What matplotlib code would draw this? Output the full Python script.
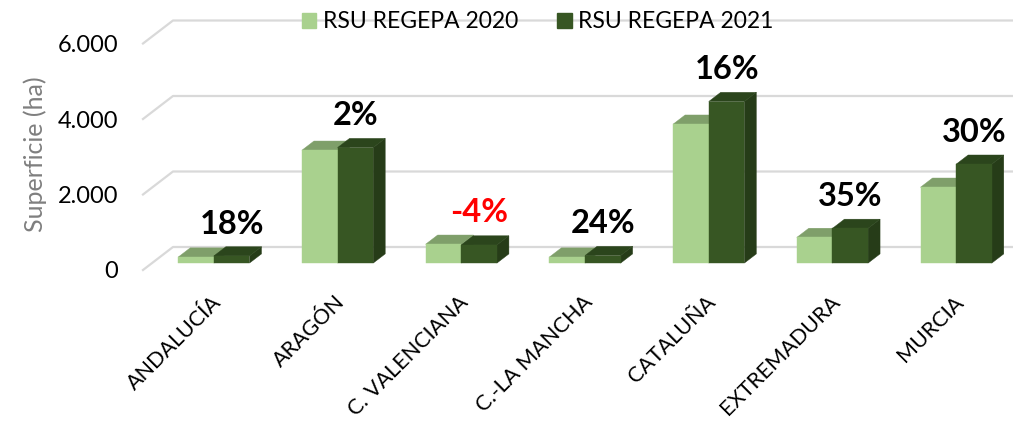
import matplotlib
matplotlib.use("Agg")
import matplotlib.pyplot as plt
from matplotlib.patches import Polygon, Patch
from matplotlib.lines import Line2D

plt.rcParams['font.family'] = ['Lato', 'DejaVu Sans']

# data
regions = ["ANDALUCÍA", "ARAGÓN", "C. VALENCIANA", "C.-LA MANCHA",
           "CATALUÑA", "EXTREMADURA", "MURCIA"]
rsu_2020 = [160, 2990, 500, 160, 3680, 680, 2010]
rsu_2021 = [190, 3060, 480, 200, 4280, 920, 2620]
pct_labels = ["18%", "2%", "-4%", "24%", "16%", "35%", "30%"]
series_names = ["RSU REGEPA 2020", "RSU REGEPA 2021"]
yticks = [0, 2000, 4000, 6000]

# colours: front, top, side
light = ("#A9D18E", "#7F9F6A", "#6F8C5C")
dark = ("#375623", "#2B451C", "#263C18")

W, H = 1013, 422
fig = plt.figure(figsize=(W / 100, H / 100), dpi=100)
# front plane of the 3D box, in pixels
left_px, right_px, zero_px, top_px = 143, 1009, 152, 378.5
ax = fig.add_axes([left_px / W, zero_px / H, (right_px - left_px) / W, (top_px - zero_px) / H])
ax.set_xlim(-0.5, len(regions) - 0.5)
ax.set_ylim(0, 6000)
for s in ax.spines.values():
    s.set_visible(False)

# oblique depth vector, full floor depth = (30px, 23px)
px_x = (len(regions)) / (right_px - left_px)
px_y = 6000 / (top_px - zero_px)
dxz = 30 * px_x
dyz = 23 * px_y
z0, z1 = 0.3, 0.7
w = 0.288

# gridlines on the back wall + floor diagonals
x_l, x_r = -0.5, len(regions) - 0.5
for v in yticks:
    ax.add_line(Line2D([x_l, x_l + dxz, x_r + dxz], [v, v + dyz, v + dyz],
                       color="#D9D9D9", lw=1.6, clip_on=False, zorder=1))


def bar3d(xc0, h, cols):
    x0 = xc0 + z0 * dxz
    x1 = x0 + w
    y0 = z0 * dyz
    ddx = (z1 - z0) * dxz
    ddy = (z1 - z0) * dyz
    front = [(x0, y0), (x1, y0), (x1, y0 + h), (x0, y0 + h)]
    top = [(x0, y0 + h), (x1, y0 + h), (x1 + ddx, y0 + h + ddy), (x0 + ddx, y0 + h + ddy)]
    side = [(x1, y0), (x1 + ddx, y0 + ddy), (x1 + ddx, y0 + h + ddy), (x1, y0 + h)]
    for pts, c in ((side, cols[2]), (top, cols[1]), (front, cols[0])):
        ax.add_patch(Polygon(pts, closed=True, facecolor=c, edgecolor=c, lw=0.3,
                             clip_on=False, zorder=3))


for i in range(len(regions)):
    bar3d(i - w, rsu_2020[i], light)
    bar3d(i, rsu_2021[i], dark)
    top_back = max(rsu_2020[i], rsu_2021[i]) + z1 * dyz
    ax.text(i + z0 * dxz + 18 * px_x, top_back + 13 * px_y, pct_labels[i],
            ha="center", va="baseline", fontsize=23.5, fontweight="bold",
            color="#FF0000" if pct_labels[i].startswith("-") else "black",
            zorder=5, clip_on=False)
    ax.text(i + z0 * dxz - 3 * px_x, -22 * px_y, regions[i],
            rotation=45, rotation_mode="anchor", ha="right", va="top",
            fontsize=15.5, color="black", clip_on=False)

ax.set_xticks([])
ax.set_yticks(yticks)
ax.set_yticklabels([f"{v:,}".replace(",", ".") for v in yticks], fontsize=17)
ax.tick_params(axis="y", length=0, pad=18)
ax.set_ylabel("Superficie (ha)", fontsize=18, color="#7F7F7F")
ax.yaxis.set_label_coords(-(left_px - 47) / (right_px - left_px), (H - 154 - zero_px) / (top_px - zero_px))
ax.patch.set_visible(False)

handles = [Patch(facecolor=light[0], edgecolor=light[0]),
           Patch(facecolor=dark[0], edgecolor=dark[0])]
fig.legend(handles, series_names, loc="center left", bbox_to_anchor=(302 / W, 1 - 22 / H),
           ncol=2, frameon=False, fontsize=16.5, handlelength=0.62, handleheight=0.62,
           handletextpad=0.3, columnspacing=1.7, borderpad=0, borderaxespad=0)

fig.savefig("out.png", dpi=100)
